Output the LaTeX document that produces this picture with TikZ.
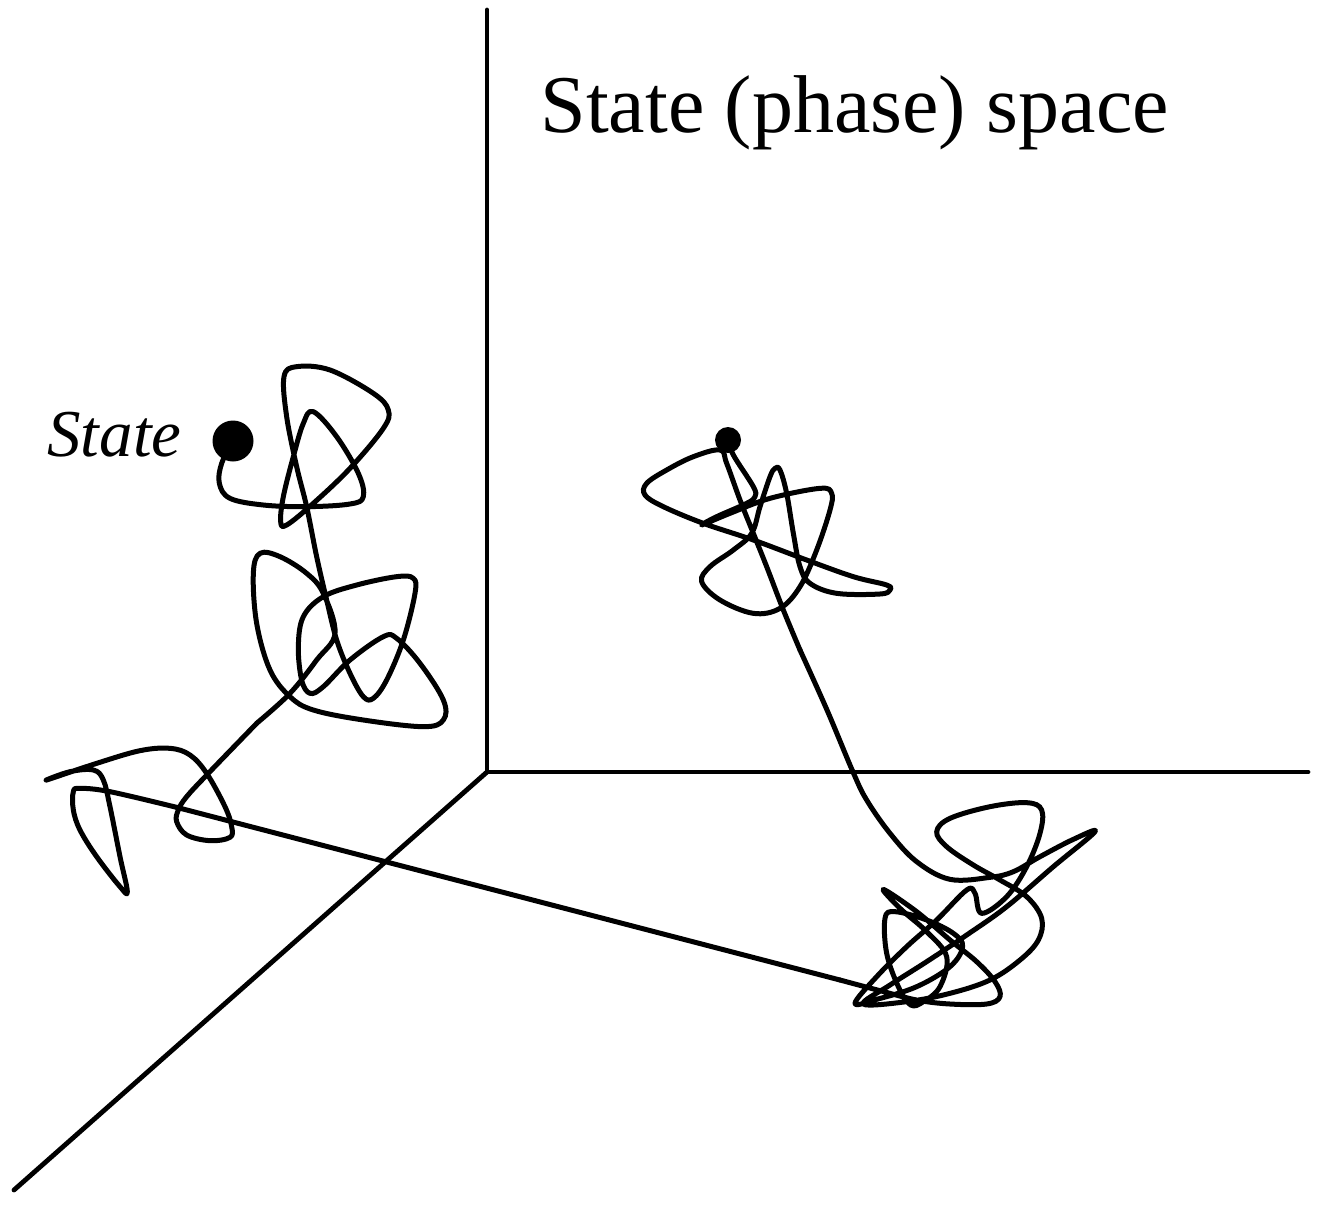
\documentclass[tikz,border=0pt]{standalone}
\usepackage{fontspec}
\setmainfont{Liberation Serif}
\begin{document}
\begin{tikzpicture}[x=0.5pt,y=-0.5pt,
  axis/.style={line width=2.4pt, line cap=round},
  traj/.style={line width=2.5pt, line cap=round, line join=round},
  dot/.style={circle, fill=black, inner sep=0pt}]
\useasboundingbox (0,0) rectangle (1321,1205);
% axes
\coordinate (O) at (487,772);
\coordinate (Ztop) at (487,10);
\coordinate (Xend) at (1308,772);
\coordinate (Yend) at (14,1190);
\draw[axis] (Ztop) -- (O) -- (Xend);
\draw[axis] (O) -- (Yend);
% labels
\node[anchor=base west, inner sep=0pt, font=\fontsize{41}{49}\selectfont] (title) at (540,132) {State (phase) space};
\node[anchor=base west, inner sep=0pt, font=\fontsize{33.5}{40}\selectfont\itshape] (lab) at (47,456) {State};
% dots
\node[dot, minimum size=20.5pt] (s1) at (233,441) {};
\node[dot, minimum size=13pt] (s2) at (728,440) {};
% piece 1: upper-left tangle
\begin{scope}[shift={(30,340)}, scale=0.33333]
\draw[traj] plot[smooth, tension=0.6] coordinates {
(610,300) (575,370) (568,430) (600,475) (700,495) (830,500) (960,492) (1000,470) (985,400) (920,290) (850,215) (820,250) (790,350) (760,470) (752,545) (770,555) (850,490) (960,385) (1060,265) (1075,210) (1030,160) (900,90) (800,80) (762,110) (770,230) (800,380) (830,500) (860,650) (890,780) (920,900) (960,1000) (1000,1070) (1030,1075) (1070,1020) (1120,900) (1155,760) (1150,715) (1100,710) (980,735) (880,770) (820,830) (805,920) (815,1020) (840,1060) (880,1040) (960,960) (1060,890) (1100,895) (1170,970) (1240,1080) (1240,1140) (1180,1160) (1000,1140) (850,1110) (780,1070) (720,990) (680,850) (670,700) (690,640) (750,650) (830,700) (880,760) (915,880) (860,960) (780,1060) (681,1149)};
\end{scope}
% piece 2: lower-left tangle
\begin{scope}[shift={(30,730)}, scale=0.33333]
\draw[traj] plot[smooth, tension=0.6] coordinates {
(681,-21) (535,130) (470,200) (445,240) (440,275) (470,315) (540,332) (600,322) (605,290) (585,230) (530,130) (480,75) (420,55) (330,62) (200,100) (50,150) (120,125) (190,120) (220,150) (240,230) (270,380) (292,485) (270,470) (200,380) (150,300) (130,240) (130,185) (150,175) (240,185) (440,232)};
\coordinate (j2) at (440,232);
\end{scope}
% long straight segment
\coordinate (j3) at (840,980);
\draw[traj] (j2) -- (j3);
% piece 3: lower-right tangle
\begin{scope}[shift={(840,800)}, scale=0.33333]
\draw[traj] plot[smooth, tension=0.6] coordinates {
(0,540) (120,572) (230,600) (330,612) (440,612) (480,590) (465,545) (410,485) (330,420) (230,335) (130,268) (180,325) (260,395) (320,470) (300,560) (250,605) (212,615) (175,560) (140,460) (135,355) (165,335) (260,360) (340,400) (368,440) (330,500) (230,560) (110,598) (45,610) (110,530) (200,440) (290,360) (380,270) (405,280) (425,340) (500,290) (560,200) (600,100) (605,30) (560,8) (450,20) (330,55) (290,95) (320,140) (400,195) (480,240) (560,290) (605,355) (595,420) (540,480) (450,540) (330,580) (200,605) (70,612) (150,555) (260,485) (380,405) (500,320) (640,200) (765,95) (700,118) (600,170) (520,215) (450,232) (330,238) (230,185) (150,100) (80,0) (39,-84) (-39,-270) (-120,-450)};
\end{scope}
% piece 4: upper-right tangle
\begin{scope}[shift={(620,400)}, scale=0.33333]
\draw[traj] plot[smooth, tension=0.6] coordinates {
(540,750) (490,630) (440,500) (400,400) (360,300) (320,190) (300,150) (220,170) (140,210) (80,250) (75,285) (130,320) (250,370) (400,420) (560,480) (700,530) (800,555) (810,570) (780,582) (650,580) (570,550) (540,500) (520,400) (500,280) (480,210) (465,205) (450,230) (420,320) (395,400) (340,450) (270,500) (245,545) (300,600) (400,640) (480,625) (540,560) (590,450) (630,330) (635,280) (600,265) (450,295) (330,340) (245,375) (290,350) (380,310) (405,290) (400,260) (340,165) (325,120)};
\end{scope}
\end{tikzpicture}
\end{document}
